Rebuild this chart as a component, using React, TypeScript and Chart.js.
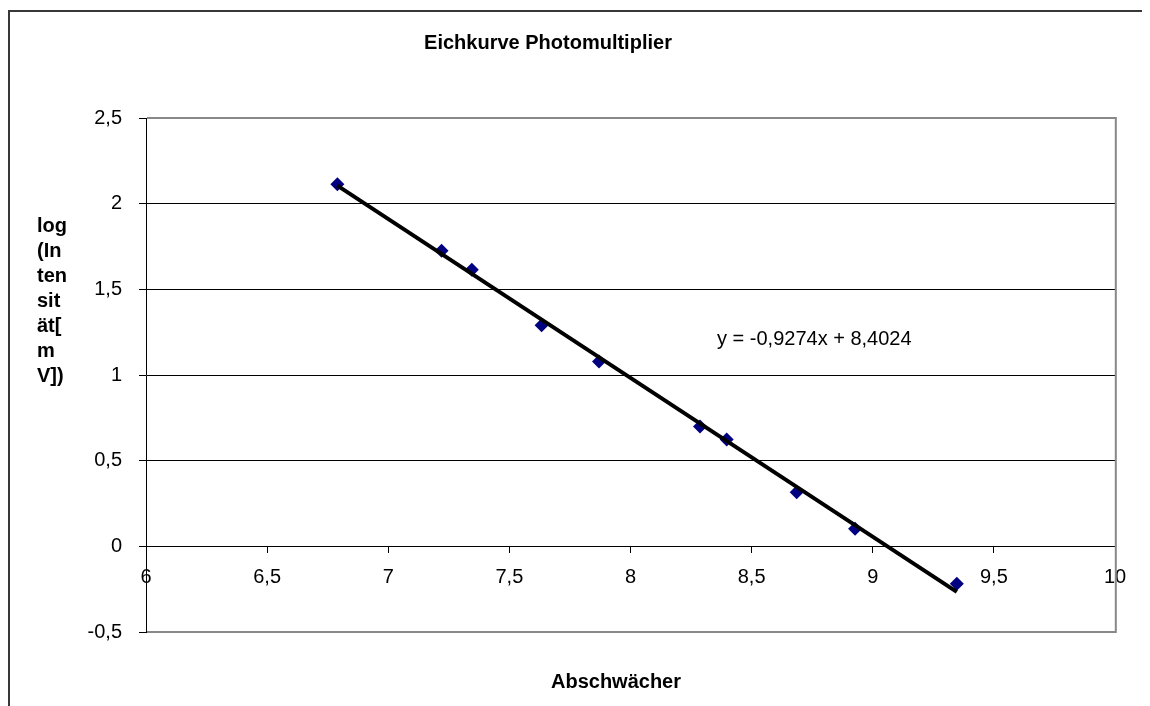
import { useEffect, useRef } from 'react';
import { Chart, registerables } from 'chart.js';

Chart.register(...registerables);

// ---- data ----
const xValues = [6.79, 7.22, 7.345, 7.633, 7.87, 8.287, 8.397, 8.686, 8.927, 9.347];
const yValues = [2.114, 1.725, 1.615, 1.29, 1.079, 0.699, 0.623, 0.315, 0.102, -0.219];
const trendSlope = -0.9274;
const trendIntercept = 8.4024;

const xRange = [6, 10];
const yRange = [-0.5, 2.5];
const tickStep = [0.5];

const chartTitle = 'Eichkurve Photomultiplier';
const xTitle = 'Abschwächer';
const yTitleLines = ['log', '(In', 'ten', 'sit', 'ät[', 'm', 'V])'];

const FONT = "'Liberation Sans', Arial, sans-serif";
const fmt = (v: number) => String(Math.round(v * 10000) / 10000).replace('.', ',');

const decorPlugin = {
  id: 'decor',
  beforeDraw(chart: any) {
    const ctx = chart.ctx;
    ctx.save();
    ctx.fillStyle = '#ffffff';
    ctx.fillRect(0, 0, chart.width, chart.height);
    ctx.restore();
  },
  beforeDatasetsDraw(chart: any) {
    const { ctx, chartArea: a } = chart;
    ctx.save();
    ctx.strokeStyle = '#888888';
    ctx.lineWidth = 2;
    ctx.beginPath();
    ctx.moveTo(a.left + 1, a.top);
    ctx.lineTo(a.right + 0.8, a.top);
    ctx.moveTo(a.right + 0.8, a.top - 1);
    ctx.lineTo(a.right + 0.8, a.bottom + 1);
    ctx.moveTo(a.right + 0.8, a.bottom);
    ctx.lineTo(a.left + 1, a.bottom);
    ctx.stroke();
    ctx.restore();
  },
  afterDraw(chart: any) {
    const { ctx } = chart;
    ctx.save();
    // outer frame
    ctx.strokeStyle = '#383838';
    ctx.lineWidth = 2;
    ctx.beginPath();
    ctx.moveTo(1, chart.height);
    ctx.lineTo(1, 3);
    ctx.lineTo(chart.width, 3);
    ctx.stroke();

    ctx.fillStyle = '#000000';
    ctx.textBaseline = 'alphabetic';
    // chart title
    ctx.font = `bold 20px ${FONT}`;
    ctx.textAlign = 'center';
    ctx.fillText(chartTitle, 540, 41);
    // x title
    ctx.fillText(xTitle, 608, 680);
    // y title (stacked lines)
    ctx.textAlign = 'left';
    yTitleLines.forEach((line, i) => {
      ctx.fillText(line, 29, 224 + 25 * i);
    });
    // trendline equation
    ctx.font = `20px ${FONT}`;
    ctx.fillText(`y = ${fmt(trendSlope)}x + ${fmt(trendIntercept)}`, 709, 337);
    ctx.restore();
  },
};

export default function App() {
  const ref = useRef<HTMLCanvasElement | null>(null);

  useEffect(() => {
    if (!ref.current) return;
    const xMin = Math.min(...xValues);
    const xMax = Math.max(...xValues);
    const trendPoints = [xMin, xMax].map((x) => ({ x, y: trendSlope * x + trendIntercept }));
    const points = xValues.map((x, i) => ({ x, y: yValues[i] }));
    const tickFont = { family: FONT, size: 20 };

    const chart = new Chart(ref.current, {
      type: 'scatter',
      data: {
        datasets: [
          {
            label: 'Trend',
            data: trendPoints,
            showLine: true,
            borderColor: '#000000',
            borderWidth: 4,
            borderCapStyle: 'butt',
            pointRadius: 0,
            pointHoverRadius: 0,
          } as any,
          {
            label: 'Messwerte',
            data: points,
            pointStyle: 'rectRot',
            pointRadius: 7,
            pointHoverRadius: 7,
            pointBorderWidth: 0,
            backgroundColor: '#000080',
            borderColor: '#000080',
            showLine: false,
          } as any,
        ],
      },
      options: {
        responsive: false,
        animation: false,
        events: [],
        layout: { padding: { left: 38, top: 110, right: 35, bottom: 74 } },
        plugins: {
          legend: { display: false },
          tooltip: { enabled: false },
          title: { display: false },
        },
        scales: {
          x: {
            type: 'linear',
            min: xRange[0],
            max: xRange[1],
            position: { y: 0 } as any,
            ticks: {
              stepSize: tickStep[0],
              font: tickFont,
              color: '#000000',
              padding: 13,
              maxRotation: 0,
              autoSkip: false,
              callback: (v: any) => fmt(Number(v)),
            },
            grid: {
              drawOnChartArea: false,
              drawTicks: true,
              tickLength: 6,
              color: '#000000',
              tickColor: '#000000',
            },
            border: { display: true, color: '#000000', width: 1 },
          },
          y: {
            type: 'linear',
            position: 'left',
            min: yRange[0],
            max: yRange[1],
            afterFit: (s: any) => {
              s.width = 100;
            },
            ticks: {
              stepSize: tickStep[0],
              font: tickFont,
              color: '#000000',
              padding: 17,
              callback: (v: any) => fmt(Number(v)),
            },
            grid: {
              color: (c: any) =>
                c.tick && (c.tick.value === yRange[0] || c.tick.value === yRange[1] || c.tick.value === 0)
                  ? 'rgba(0,0,0,0)'
                  : '#000000',
              tickColor: '#000000',
              tickLength: 7,
              lineWidth: 1,
            },
            border: { display: true, color: '#000000', width: 1 },
          },
        },
      } as any,
      plugins: [decorPlugin],
    });
    return () => chart.destroy();
  }, []);

  return <canvas ref={ref} width={1142} height={698} style={{ display: 'block', width: 1142, height: 698 }} />;
}
